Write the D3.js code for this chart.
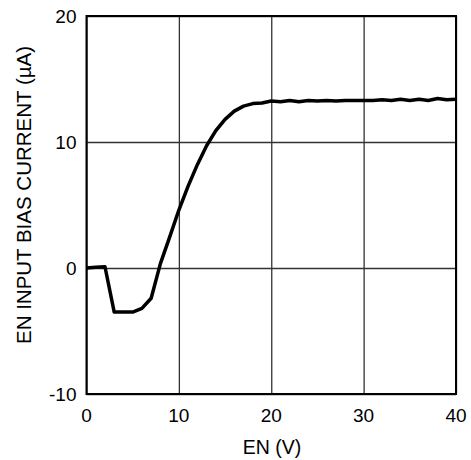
<!DOCTYPE html>
<html>
<head>
<meta charset="utf-8">
<script src="https://d3js.org/d3.v7.min.js"></script>
<style>
  body { margin: 0; background: #fff; }
  svg { display: block; font-family: "Liberation Sans", Arial, sans-serif; }
</style>
</head>
<body>
<svg width="471" height="460"></svg>
<script>
// EN pin voltage (V) and input bias current (uA)
const enVolts = [0, 1, 2, 3, 4, 5, 6, 7, 8, 9, 10, 11, 12, 13, 14, 15, 16, 17, 18, 19, 20,
  21, 22, 23, 24, 25, 26, 27, 28, 29, 30, 31, 32, 33, 34, 35, 36, 37, 38, 39, 40];
const biasCurrent = [0, 0.05, 0.1, -3.5, -3.5, -3.5, -3.2, -2.4, 0.35, 2.45, 4.6, 6.5, 8.2, 9.7, 10.9, 11.8, 12.45, 12.85, 13.05, 13.1, 13.25,
  13.2, 13.3, 13.2, 13.3, 13.25, 13.3, 13.25, 13.3, 13.3, 13.3, 13.3, 13.35, 13.3, 13.4, 13.3, 13.4, 13.3, 13.45, 13.35, 13.4];
const xTicks = [0, 10, 20, 30, 40];
const yTicks = [-10, 0, 10, 20];

const mLeft = 86.5, mRight = 456, mTop = 16, mBottom = 394;

const x = d3.scaleLinear().domain([0, 40]).range([mLeft, mRight]);
const y = d3.scaleLinear().domain([-10, 20]).range([mBottom, mTop]);

const svg = d3.select("svg");

// grid
svg.append("g")
  .attr("transform", "translate(0," + mBottom + ")")
  .call(d3.axisBottom(x).tickValues(xTicks).tickSize(-(mBottom - mTop)).tickFormat(""))
  .call(g => g.select(".domain").remove())
  .selectAll("line").attr("stroke", "#333").attr("stroke-width", 1.3);

svg.append("g")
  .attr("transform", "translate(" + mLeft + ",0)")
  .call(d3.axisLeft(y).tickValues(yTicks).tickSize(-(mRight - mLeft)).tickFormat(""))
  .call(g => g.select(".domain").remove())
  .selectAll("line").attr("stroke", "#333").attr("stroke-width", 1.3);

// frame
svg.append("rect")
  .attr("x", mLeft).attr("y", mTop)
  .attr("width", mRight - mLeft).attr("height", mBottom - mTop)
  .attr("fill", "none").attr("stroke", "#000").attr("stroke-width", 2);

// tick labels
svg.selectAll(".xl").data(xTicks).enter().append("text")
  .attr("x", d => x(d)).attr("y", mBottom + 28)
  .attr("text-anchor", "middle").attr("font-size", 19).text(d => d);

svg.selectAll(".yl").data(yTicks).enter().append("text")
  .attr("x", mLeft - 10).attr("y", d => y(d) + 7)
  .attr("text-anchor", "end").attr("font-size", 19).text(d => d);

// axis titles
svg.append("text")
  .attr("x", 272).attr("y", 453.5)
  .attr("text-anchor", "middle").attr("font-size", 19.5).text("EN (V)");

svg.append("text")
  .attr("transform", "translate(31,195) rotate(-90)")
  .attr("text-anchor", "middle").attr("font-size", 20.5).text("EN INPUT BIAS CURRENT (\u00b5A)");

// curve
const line = d3.line().x((d, i) => x(enVolts[i])).y(d => y(d));
svg.append("path")
  .datum(biasCurrent)
  .attr("d", line)
  .attr("fill", "none").attr("stroke", "#000")
  .attr("stroke-width", 3.5).attr("stroke-linejoin", "round");
</script>
</body>
</html>
